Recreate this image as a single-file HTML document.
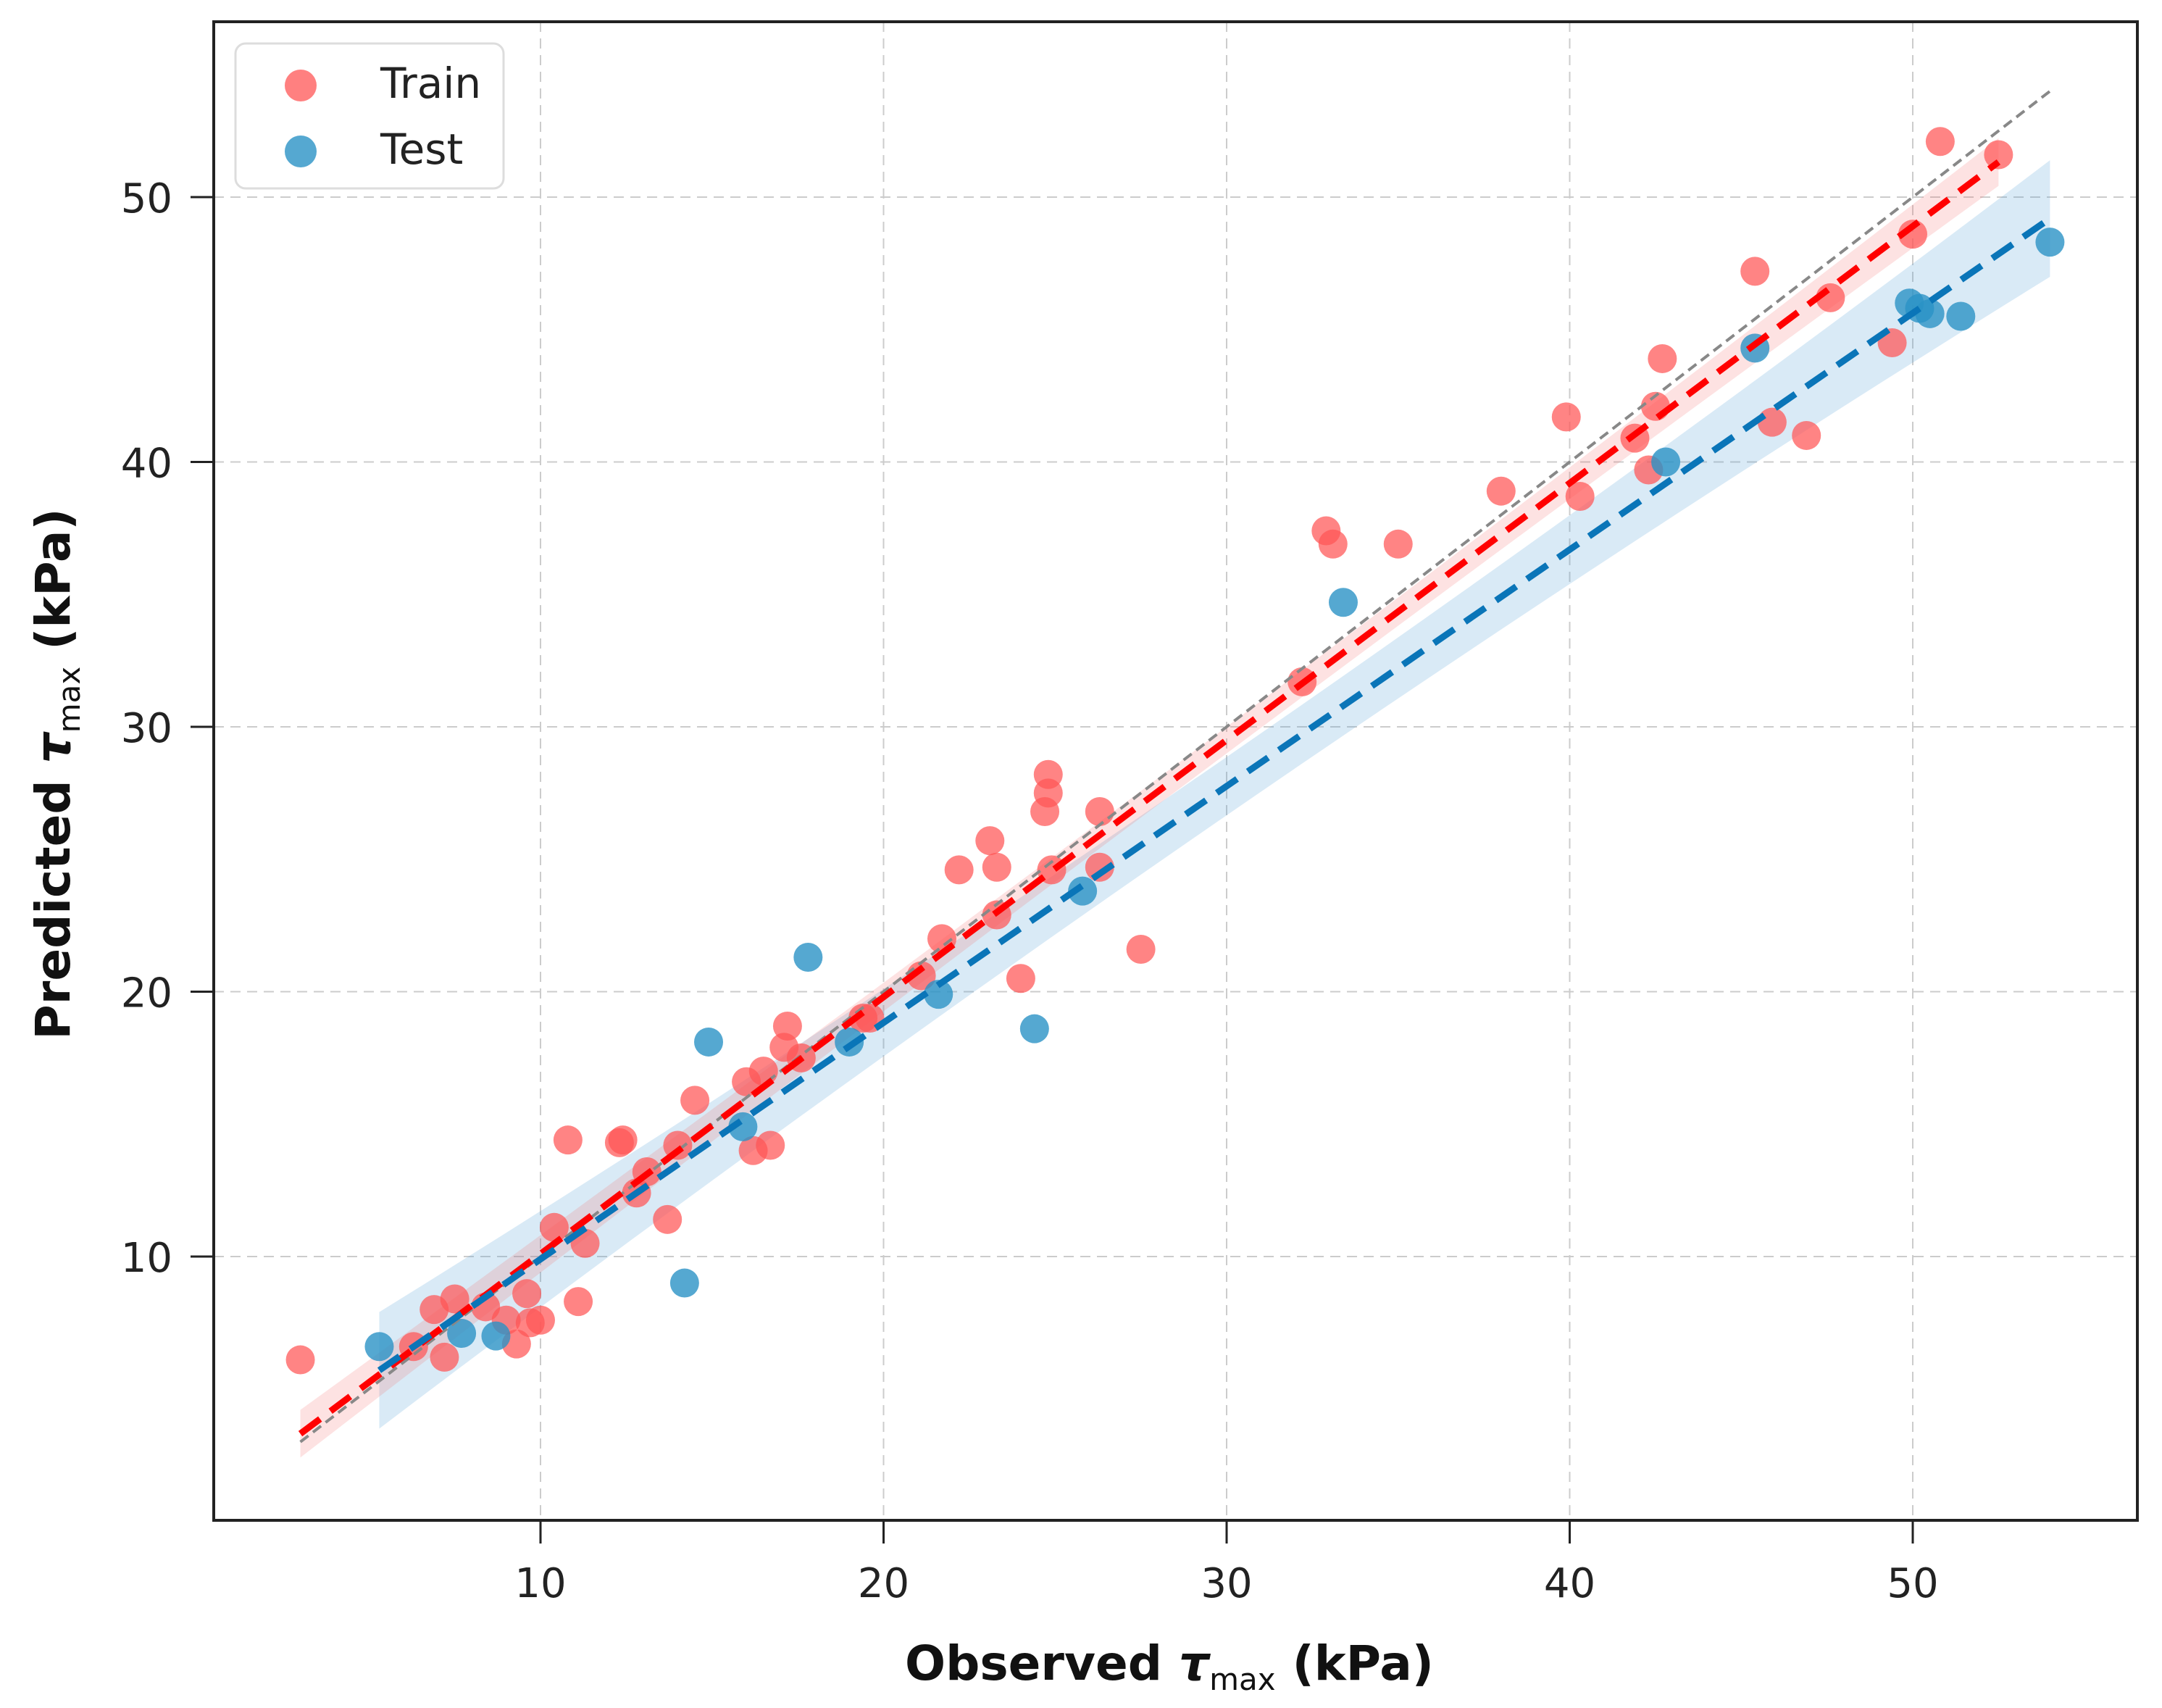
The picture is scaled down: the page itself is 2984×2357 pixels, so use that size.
<!DOCTYPE html>
<html><head><meta charset="utf-8"><style>
html,body{margin:0;padding:0;background:#fff;}
svg{display:block;font-family:"DejaVu Sans","Liberation Sans",sans-serif;}
</style></head><body>
<svg id="chart" width="2984" height="2357" viewBox="0 0 2984 2357">
<rect x="0" y="0" width="2984" height="2357" fill="#fff"/>
<g id="grid"></g>
<g id="bands"></g>
<g id="lines"></g>
<g id="points"></g>
<g id="axes"></g>
<g>
<rect x="325" y="60" width="370" height="200" rx="14" fill="#fff" fill-opacity="0.85" stroke="#ddd" stroke-width="3"/>
<circle cx="415" cy="118" r="22" fill="#f55" fill-opacity="0.75"/>
<text x="525" y="135" font-size="58" fill="#222">Train</text>
<circle cx="415" cy="209" r="22" fill="#2a92c6" fill-opacity="0.8"/>
<text x="525" y="226" font-size="58" fill="#222">Test</text>
</g>
<text x="1614" y="2318" text-anchor="middle" font-size="66" font-weight="bold" fill="#111">Observed <tspan font-style="italic">τ</tspan><tspan font-size="42" font-weight="normal" dy="14">max</tspan><tspan dy="-14"> (kPa)</tspan></text>
<text transform="translate(96,1068) rotate(-90)" text-anchor="middle" font-size="66" font-weight="bold" fill="#111">Predicted <tspan font-style="italic">τ</tspan><tspan font-size="42" font-weight="normal" dy="14">max</tspan><tspan dy="-14"> (kPa)</tspan></text>
</svg>
<script>
const xTicks=[10,20,30,40,50];
const yTicks=[10,20,30,40,50];
const trainX=[3.0,6.3,6.9,7.2,7.5,8.4,9.0,9.3,9.6,9.7,10.0,10.4,10.8,11.1,11.3,12.3,12.4,12.8,13.1,13.7,14.0,14.5,16.0,16.2,16.5,16.7,17.1,17.2,17.6,19.4,19.6,21.1,21.7,22.2,23.1,23.3,23.3,24.0,24.9,24.7,24.8,24.8,26.3,26.3,27.5,32.2,32.9,33.1,35.0,38.0,39.9,40.3,41.9,42.3,42.5,42.7,45.4,45.9,46.9,47.6,49.4,50.0,50.8,52.5];
const trainY=[6.1,6.6,8.0,6.2,8.4,8.1,7.6,6.7,8.6,7.5,7.6,11.1,14.4,8.3,10.5,14.3,14.4,12.4,13.2,11.4,14.2,15.9,16.6,14.0,17.0,14.2,17.9,18.7,17.5,19.0,19.0,20.6,22.0,24.6,25.7,24.7,22.9,20.5,24.6,26.8,27.5,28.2,26.8,24.7,21.6,31.7,37.4,36.9,36.9,38.9,41.7,38.7,40.9,39.7,42.1,43.9,47.2,41.5,41.0,46.2,44.5,48.6,52.1,51.6];
const testX=[5.3,7.7,8.7,14.2,14.9,15.9,17.8,19.0,21.6,24.4,25.8,33.4,42.8,45.4,49.9,50.2,50.5,51.4,54.0];
const testY=[6.6,7.1,7.0,9.0,18.1,14.9,21.3,18.1,19.9,18.6,23.8,34.7,40.0,44.3,46.0,45.8,45.6,45.5,48.3];
const identityRange=[3,54];
const trainFit=[0.970,0.40];
const trainRange=[3,52.5];
const trainBand=[0.9,0.5];
const testFit=[0.893,0.97];
const testRange=[5.3,54];
const testBand=[2.2,1.1];

const L=295,R=2950,T=30,B=2098;
const X0=272.5,XS=47.35,Y0=2099.5,YS=36.55;
const sx=v=>X0+v*XS, sy=v=>Y0-v*YS;
const NS='http://www.w3.org/2000/svg';
function mk(tag,attrs,parent){const e=document.createElementNS(NS,tag);for(const k in attrs)e.setAttribute(k,attrs[k]);parent.appendChild(e);return e;}
const grid=document.getElementById('grid'),axes=document.getElementById('axes'),bands=document.getElementById('bands'),lines=document.getElementById('lines'),pts=document.getElementById('points');
xTicks.forEach(t=>{
 const g=mk('line',{x1:sx(t),x2:sx(t),y1:T,y2:B,stroke:'#ccc','stroke-width':2,'stroke-dasharray':'14 9'},grid);
 
 
 const tk=mk('line',{x1:sx(t),x2:sx(t),y1:B,y2:B+32,stroke:'#222','stroke-width':3},axes);
 
 
 const tl=mk('text',{x:sx(t),y:2204,'text-anchor':'middle','font-size':56,fill:'#222'},axes);
 tl.textContent=t;
 
 
});
yTicks.forEach(t=>{
 const g=mk('line',{x1:L,x2:R,y1:sy(t),y2:sy(t),stroke:'#ccc','stroke-width':2,'stroke-dasharray':'14 9'},grid);
 
 
 const tk=mk('line',{x1:L-32,x2:L,y1:sy(t),y2:sy(t),stroke:'#222','stroke-width':3},axes);
 
 
 const tl=mk('text',{x:238,y:sy(t)+21,'text-anchor':'end','font-size':56,fill:'#222'},axes);
 tl.textContent=t;
 
 
});
const frame=mk('rect',{x:L,y:T,width:R-L,height:B-T,fill:'none',stroke:'#222','stroke-width':4},axes);


function band(fit,range,bw,color,name){
 const mid=(range[0]+range[1])/2,half=(range[1]-range[0])/2;
 const up=[],dn=[];
 for(let i=0;i<=40;i++){const x=range[0]+(range[1]-range[0])*i/40;const u=(x-mid)/half;const h=bw[1]+(bw[0]-bw[1])*u*u;const y=fit[0]*x+fit[1];up.push(sx(x)+','+sy(y+h));dn.unshift(sx(x)+','+sy(y-h));}
 const p=mk('polygon',{points:up.concat(dn).join(' '),fill:color},bands);
 
 
}
band(testFit,testRange,testBand,'rgba(80,160,215,0.22)','test-confidence-band');
band(trainFit,trainRange,trainBand,'rgba(245,110,110,0.2)','train-confidence-band');
const id=mk('line',{x1:sx(identityRange[0]),y1:sy(identityRange[0]),x2:sx(identityRange[1]),y2:sy(identityRange[1]),stroke:'#888','stroke-width':4,'stroke-dasharray':'14 8'},lines);


trainX.forEach((x,i)=>{
 const c=mk('circle',{cx:sx(x),cy:sy(trainY[i]),r:20,fill:'#f55','fill-opacity':0.72},pts);
 
 
});
testX.forEach((x,i)=>{
 const c=mk('circle',{cx:sx(x),cy:sy(testY[i]),r:20,fill:'#2a92c6','fill-opacity':0.8},pts);
 
 
});
const tf=mk('line',{x1:sx(trainRange[0]),y1:sy(trainFit[0]*trainRange[0]+trainFit[1]),x2:sx(trainRange[1]),y2:sy(trainFit[0]*trainRange[1]+trainFit[1]),stroke:'#f00','stroke-width':9,'stroke-dasharray':'34 18'},lines);


const sf=mk('line',{x1:sx(testRange[0]),y1:sy(testFit[0]*testRange[0]+testFit[1]),x2:sx(testRange[1]),y2:sy(testFit[0]*testRange[1]+testFit[1]),stroke:'#0a75b8','stroke-width':9,'stroke-dasharray':'34 18'},lines);


pts.parentNode.appendChild(lines);
</script>
</body></html>
